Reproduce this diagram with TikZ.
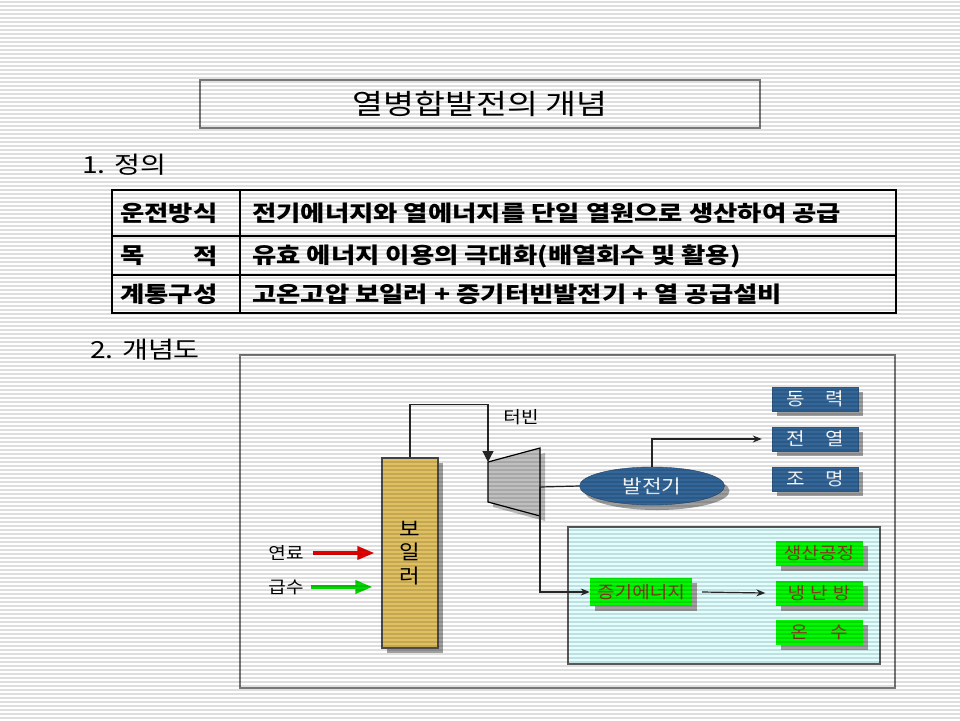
\documentclass[tikz,border=0pt]{standalone}
\usepackage{fontspec}
\newfontfamily\kr[FakeStretch=1.12]{Noto Sans CJK KR}
\newfontfamily\krt[FakeStretch=1.2]{Noto Sans CJK KR}
\newfontfamily\krb[FakeStretch=1.2]{Noto Sans CJK KR}
\usetikzlibrary{arrows.meta,shadows,calc,shapes.geometric}
\definecolor{myblue}{RGB}{51,102,153}
\definecolor{boilerfill}{RGB}{224,192,96}
\definecolor{framegray}{RGB}{120,120,120}
\definecolor{shadowgray}{RGB}{160,160,160}
\definecolor{lightcyan}{RGB}{224,255,255}
\definecolor{brightgreen}{RGB}{0,250,0}
\definecolor{greentext}{RGB}{135,60,30}
\definecolor{stripe}{RGB}{222,222,222}
\definecolor{turbgray}{RGB}{192,192,192}
\tikzset{
  titlebox/.style={draw=framegray, line width=1.5pt, minimum width=560pt, minimum height=48pt, inner sep=0pt,
    font=\krt\fontsize{28}{28}\selectfont},
  head/.style={inner sep=0pt, font=\krt\fontsize{23.5}{23.5}\selectfont},
  tbl/.style={inner sep=0pt, font=\krb\bfseries\fontsize{22}{22}\selectfont},
  lbl/.style={inner sep=0pt, font=\kr\fontsize{17}{17}\selectfont},
  boxshadow/.style={drop shadow={shadow xshift=5pt, shadow yshift=-5pt, fill=shadowgray, opacity=1}},
  bluebox/.style={rectangle, fill=myblue, draw=myblue!85!black, minimum width=86pt, minimum height=24pt, inner sep=0pt,
    text=white, font=\kr\fontsize{18}{18}\selectfont, boxshadow},
  greenbox/.style={rectangle, fill=brightgreen, minimum width=87pt, minimum height=25pt, inner sep=0pt,
    text=greentext, font=\kr\fontsize{17}{17}\selectfont, boxshadow},
  boilerbox/.style={rectangle, fill=boilerfill, draw=black!70, line width=1.2pt, minimum width=56pt, minimum height=190pt,
    inner sep=0pt, align=center, font=\kr\fontsize{20}{23.5}\selectfont,
    drop shadow={shadow xshift=5pt, shadow yshift=-5pt, fill=shadowgray, opacity=1}},
  gen/.style={ellipse, fill=myblue, draw=myblue!70!black, minimum width=145pt, minimum height=38pt, inner sep=0pt,
    text=white, font=\kr\fontsize{19}{19}\selectfont, boxshadow},
  cyanbox/.style={rectangle, fill=lightcyan, draw=black!65, line width=1.2pt, minimum width=312pt, minimum height=137pt, inner sep=0pt},
  thinline/.style={draw=black!85, line width=1.2pt},
  smallhead/.style={-{Stealth[length=9pt,width=7pt]}},
  fatarrow/.style={line width=3.5pt, -{Triangle[length=17pt,width=13pt]}},
}
\begin{document}
\begin{tikzpicture}[x=1pt,y=-1pt]
\useasboundingbox (0,0) rectangle (960,720);
\fill[white] (0,0) rectangle (960,720);

% title and headings
\node[titlebox] (title) at (480,104) {열병합발전의 개념};
\node[head, anchor=west] (h1) at (82,165) {1. 정의};
\node[head, anchor=west] (h2) at (90,350) {2. 개념도};

% table
\draw[line width=2.5pt] (112,190) rectangle (896,313);
\draw[line width=1.5pt] (112,236) -- (896,236);
\draw[line width=1.5pt] (112,275) -- (896,275);
\draw[line width=1.5pt] (240,190) -- (240,313);
\node[tbl, anchor=west] (r1a) at (120,213) {운전방식};
\node[tbl, anchor=west] (r1b) at (252,213) {전기에너지와 열에너지를 단일 열원으로 생산하여 공급};
\node[tbl, anchor=west] (r2a) at (120,256) {목};
\node[tbl, anchor=east] (r2c) at (218,256) {적};
\node[tbl, anchor=west] (r2b) at (252,256) {유효 에너지 이용의 극대화(배열회수 및 활용)};
\node[tbl, anchor=west] (r3a) at (120,294) {계통구성};
\node[tbl, anchor=west] (r3b) at (252,294) {고온고압 보일러 + 증기터빈발전기 + 열 공급설비};

% diagram frame
\draw[framegray, line width=1.5pt] (240,355) rectangle (895,688);

% heat box
\node[cyanbox] (heat) at (724,595.5) {};

% boiler
\node[boilerbox] (boiler) at (410,553) {보\\일\\러};

% turbine
\fill[shadowgray!70] (493,467) -- (545,453) -- (545,521) -- (493,507) -- cycle;
\draw[fill=turbgray, draw=black, line width=1.2pt] (488,462) -- (540,448) -- (540,516) -- (488,502) -- cycle;
\coordinate (tin) at (488,462);
\coordinate (tout) at (540,487);
\node[lbl] (turbl) at (521,417) {터빈};

% generator
\node[gen] (gen) at (652,486) {발전기};

% electricity boxes
\node[bluebox] (b1) at (815,399) {동\hspace{20pt}력};
\node[bluebox] (b2) at (815,439) {전\hspace{20pt}열};
\node[bluebox] (b3) at (815,479) {조\hspace{20pt}명};

% steam and heat boxes
\node[greenbox, minimum width=102pt, minimum height=28pt] (steam) at (641,592) {증기에너지};
\node[greenbox] (g1) at (819,553) {생산공정};
\node[greenbox] (g2) at (819,593) {냉\hspace{5pt}난\hspace{5pt}방};
\node[greenbox] (g3) at (819,632) {온\hspace{22pt}수};

% inputs
\node[lbl] (fuel) at (286,553) {연료};
\node[lbl] (water) at (286,587) {급수};
\draw[fatarrow, red!90!black, shorten <=9pt, shorten >=7pt] (fuel.east) -- (fuel.east -| boiler.west);
\draw[fatarrow, green!85!black, shorten <=7pt, shorten >=9pt] (water.east) -- (water.east -| boiler.west);

% connectors
\draw[thinline, -{Triangle[length=11pt,width=11pt]}] (boiler.north) -- ++(0,-53) -| (tin);
\draw[thinline] (tout) -- (gen.west);
\draw[thinline, smallhead] (gen.north) |- ([xshift=-10pt]b2.west);
\draw[thinline, smallhead] (tout) |- (steam.west);
\draw[thinline, smallhead] ([xshift=10pt]steam.east) -- ([xshift=-10pt]g2.west);

% background stripes
\begin{scope}[blend mode=multiply]
\foreach \y in {2,6,...,718} \draw[stripe, line width=1.3pt] (0,\y) -- (960,\y);
\end{scope}
\end{tikzpicture}
\end{document}
